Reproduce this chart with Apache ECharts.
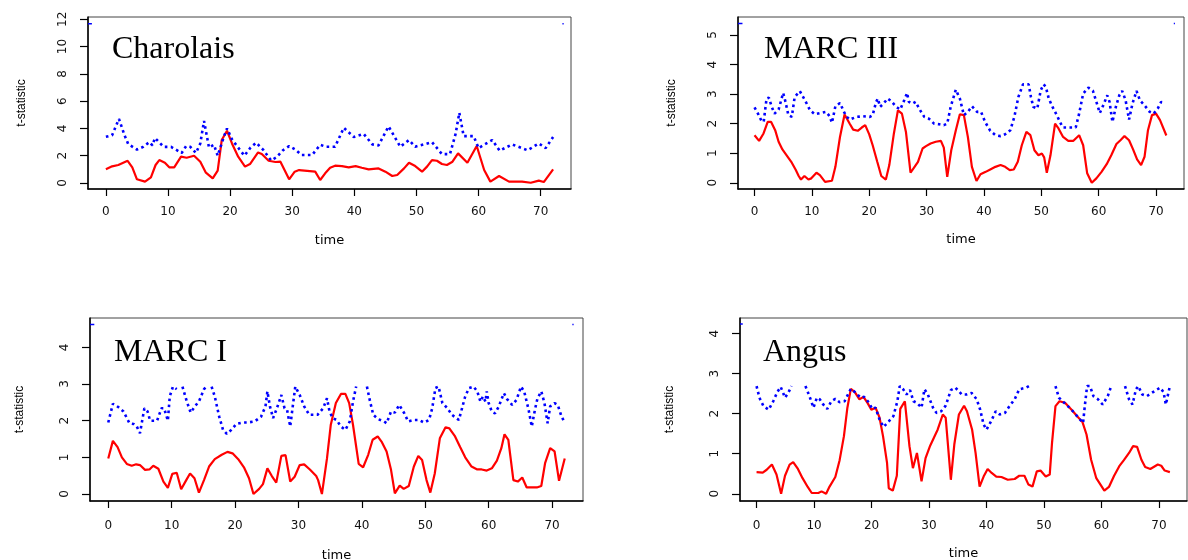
<!DOCTYPE html>
<html>
<head>
<meta charset="utf-8">
<script src="https://cdn.jsdelivr.net/npm/echarts@6/dist/echarts.min.js"></script>
<style>
  html, body { margin: 0; padding: 0; background: #fff; }
  #chart { width: 1188px; height: 560px; }
</style>
</head>
<body>
<div id="chart"></div>
<script>
// tick labels
const xTicks = [0, 10, 20, 30, 40, 50, 60, 70]
const yTicksCharolais = [0, 2, 4, 6, 8, 10, 12]
const yTicksMarc3 = [0, 1, 2, 3, 4, 5]
const yTicksMarc1 = [0, 1, 2, 3, 4]
const yTicksAngus = [0, 1, 2, 3, 4]

const breeds = ['Charolais', 'MARC III', 'MARC I', 'Angus']

// [time, t-statistic] ('-' = hidden part of the line)
const charolaisRed = [[0,1.0],[1,1.22],[2,1.32],[3.5,1.63],[4.25,1.15],[5,0.27],[6.3,0.1],[7.25,0.41],[8,1.32],[8.6,1.68],[9.5,1.49],[10.2,1.15],[11,1.15],[12.1,1.93],[13,1.85],[14.2,2.0],[15.2,1.56],[16.1,0.76],[17.2,0.34],[18,0.9],[18.65,3.15],[19.5,3.83],[20.3,2.9],[21.3,1.93],[22.4,1.2],[23.2,1.39],[24.5,2.24],[25.1,2.12],[26.2,1.63],[27.3,1.54],[28.1,1.56],[29.5,0.27],[30.4,0.83],[31.1,0.95],[33.7,0.83],[34.5,0.22],[35.3,0.71],[36.1,1.12],[36.9,1.27],[38,1.24],[39.1,1.15],[40.2,1.24],[41.2,1.12],[42.3,1.0],[43.9,1.07],[45,0.83],[46.1,0.51],[46.9,0.59],[48,1.07],[48.8,1.49],[49.8,1.24],[50.9,0.83],[51.7,1.2],[52.5,1.68],[53.3,1.63],[54.1,1.39],[54.9,1.32],[55.8,1.56],[56.7,2.17],[58.2,1.49],[59.7,2.71],[60.9,0.95],[61.9,0.1],[63.3,0.51],[64.9,0.1],[67,0.1],[68.4,0.02],[69.7,0.17],[70.5,0.07],[72,1.0]]
const charolaisBlue = [[0,3.39],[1,3.5],[2.1,4.7],[3,3.5],[3.6,2.85],[5,2.45],[6,2.65],[7,3.0],[7.5,2.75],[7.9,3.3],[9.3,2.65],[10.5,2.65],[12.2,2.2],[12.9,2.7],[13.6,2.65],[14.5,2.2],[15.2,2.9],[15.8,4.55],[16.6,2.6],[17.4,2.8],[18,2.0],[19,3.4],[19.5,4.0],[20.3,3.2],[21.2,2.65],[22.3,2.0],[23.3,2.6],[24.2,2.95],[25.3,2.45],[26.6,1.65],[27.5,1.9],[28.5,2.4],[29.5,2.7],[30.5,2.45],[31.5,2.05],[33.2,2.05],[34.5,2.8],[35.4,2.66],[36.9,2.66],[38.3,4.05],[39.9,3.37],[41.5,3.6],[42.9,2.83],[43.9,2.76],[45.5,4.15],[47.4,2.66],[48.8,3.15],[49.8,2.66],[51.2,2.83],[52.5,3.0],[54.1,2.12],[55.4,2.12],[56.3,3.6],[56.9,5.15],[57.6,3.44],[59.2,3.44],[60,2.56],[62.2,3.15],[63.4,2.37],[65.4,2.83],[67.9,2.4],[69.7,2.9],[70.8,2.56],[72,3.37]]
const charolaisEdge = [[-2.88,11.68],[-2.25,11.68],[73,'-'],[73.5,11.68],[73.7,11.68]]

const marc3Red = [[0,1.61],[0.8,1.42],[1.57,1.67],[2.3,2.06],[2.9,2.06],[3.6,1.78],[4.2,1.39],[4.86,1.13],[5.6,0.93],[6.5,0.68],[7.2,0.43],[7.7,0.23],[8.1,0.11],[8.7,0.23],[9.4,0.11],[9.9,0.15],[10.8,0.34],[11.4,0.26],[12.3,0.03],[13.5,0.07],[14.1,0.54],[14.9,1.55],[15.7,2.31],[16.6,2.0],[17.2,1.8],[18,1.76],[18.7,1.87],[19.3,1.95],[20,1.64],[20.6,1.27],[21.4,0.71],[22.1,0.23],[22.9,0.11],[23.5,0.6],[24.3,1.67],[25,2.45],[25.7,2.34],[26.4,1.72],[27.2,0.34],[27.9,0.54],[28.5,0.71],[29.3,1.16],[29.9,1.24],[30.7,1.33],[31.6,1.39],[32.5,1.42],[33,1.19],[33.6,0.2],[34.3,1.1],[35.1,1.78],[35.8,2.32],[36.5,2.29],[37.2,1.55],[37.9,0.54],[38.7,0.06],[39.4,0.29],[40.3,0.37],[41.1,0.45],[42,0.54],[42.9,0.6],[43.7,0.54],[44.5,0.43],[45.2,0.45],[45.9,0.71],[46.6,1.27],[47.4,1.72],[48.1,1.61],[48.8,1.1],[49.5,0.93],[50.1,0.99],[50.5,0.86],[50.96,0.34],[51.6,0.93],[52.4,2.0],[53,1.84],[53.8,1.55],[54.7,1.42],[55.6,1.42],[56.6,1.61],[57.3,1.27],[58,0.32],[58.8,0.0],[59.6,0.15],[60.5,0.37],[61.4,0.63],[62.2,0.93],[63.1,1.31],[63.8,1.44],[64.5,1.58],[65.3,1.44],[66,1.13],[66.7,0.79],[67.4,0.6],[68,0.88],[68.6,1.78],[69.3,2.29],[70,2.34],[70.7,2.12],[71.8,1.6]]
const marc3Blue = [[0,2.55],[0.6,2.34],[1.2,2.1],[1.6,2.06],[2.1,2.85],[2.5,2.88],[3,2.57],[3.5,2.34],[4.2,2.48],[5,3.04],[5.4,2.74],[5.9,2.29],[6.5,2.23],[7,2.9],[7.9,3.1],[8.8,2.79],[9.7,2.45],[10.5,2.32],[11.4,2.36],[12.5,2.4],[13.1,2.25],[13.5,2.03],[14.1,2.59],[14.9,2.7],[15.6,2.4],[16,2.25],[16.6,2.14],[17.8,2.23],[18.9,2.25],[20.1,2.23],[20.6,2.29],[21.2,2.74],[21.5,2.85],[21.9,2.57],[22.5,2.68],[23.2,2.85],[23.8,2.77],[24.7,2.57],[25.4,2.48],[26.1,2.79],[26.6,3.04],[26.9,2.74],[27.6,2.68],[28.1,2.74],[28.7,2.51],[29.6,2.23],[30.4,2.17],[31.3,2.0],[32.2,1.98],[33,1.95],[33.6,2.0],[34.2,2.57],[35.1,3.15],[35.8,2.85],[36.5,2.29],[37.2,2.4],[37.9,2.59],[38.8,2.4],[39.5,2.4],[40.2,2.06],[41.1,1.76],[42,1.61],[42.9,1.58],[43.7,1.64],[44.6,1.78],[45.3,2.23],[46,2.9],[46.8,3.33],[47.8,3.33],[48.2,2.9],[48.6,2.57],[49.3,2.51],[49.9,3.13],[50.4,3.33],[50.8,3.24],[51.3,2.85],[52,2.55],[52.7,2.29],[53.4,2.0],[53.8,1.87],[55,1.87],[56,1.87],[56.6,2.34],[57.3,3.02],[58.2,3.22],[59,3.11],[59.7,2.68],[60.2,2.36],[60.8,2.62],[61.5,2.96],[61.9,2.74],[62.4,2.06],[63,2.57],[63.6,2.96],[64.1,3.11],[64.7,2.79],[65.3,2.14],[65.9,2.68],[66.6,3.11],[67.2,2.79],[68,2.62],[68.9,2.4],[69.6,2.34],[70.3,2.51],[70.9,2.74],[71.5,2.68]]
const marc3Edge = [[-2.88,5.39],[-2.1,5.39],[72,'-'],[73.1,5.39],[73.3,5.39]]

const marc1Red = [[0,0.97],[0.73,1.45],[1.47,1.28],[2.15,1.0],[2.93,0.82],[3.7,0.77],[4.4,0.81],[5,0.79],[5.8,0.66],[6.5,0.67],[7.1,0.77],[7.9,0.69],[8.7,0.34],[9.4,0.17],[10.1,0.55],[10.8,0.58],[11.5,0.13],[12.3,0.38],[12.9,0.56],[13.6,0.43],[14.3,0.04],[15.1,0.38],[15.9,0.75],[16.8,0.95],[17.9,1.07],[18.8,1.15],[19.6,1.11],[20.5,0.95],[21.4,0.73],[22.2,0.43],[22.9,0.0],[23.8,0.14],[24.4,0.27],[25.1,0.7],[25.8,0.49],[26.5,0.31],[27.3,1.04],[27.96,1.06],[28.7,0.34],[29.4,0.47],[30.2,0.79],[30.9,0.81],[31.8,0.67],[32.8,0.49],[33.1,0.38],[33.7,0.0],[34.5,0.97],[35.1,1.89],[35.9,2.48],[36.7,2.73],[37.4,2.73],[38,2.48],[38.6,1.89],[39.5,0.82],[40.2,0.73],[41,1.07],[41.7,1.48],[42.5,1.57],[43.1,1.43],[43.9,1.16],[44.6,0.66],[45.2,0.02],[45.97,0.23],[46.6,0.14],[47.4,0.22],[48.2,0.75],[48.9,1.04],[49.5,0.93],[50.2,0.38],[50.8,0.04],[51.5,0.56],[52.3,1.52],[53.2,1.82],[53.8,1.79],[54.7,1.57],[55.5,1.28],[56.3,1.0],[57.3,0.75],[58.2,0.67],[58.9,0.67],[59.7,0.64],[60.5,0.7],[61.3,0.91],[62,1.25],[62.5,1.63],[63.1,1.48],[63.9,0.38],[64.6,0.34],[65.3,0.45],[66,0.18],[66.8,0.18],[67.6,0.18],[68.3,0.22],[68.9,0.84],[69.7,1.25],[70.4,1.16],[71.1,0.36],[72,0.97]]
const marc1Blue = [[0,1.95],[0.73,2.46],[1.6,2.37],[2.4,2.25],[3.35,1.93],[4,1.91],[4.5,1.84],[5,1.66],[5.7,2.34],[6.2,2.25],[6.6,2.0],[7.7,2.0],[8.4,2.34],[8.8,2.34],[9.4,2.0],[9.7,2.66],[10.2,2.93],[10.8,2.86],[11.2,'-'],[11.7,2.93],[12.4,2.52],[13,2.22],[13.7,2.4],[14.3,2.52],[15.1,2.86],[15.5,2.93],[15.9,'-'],[16.3,2.93],[16.8,2.66],[17.5,2.11],[18.1,1.75],[18.7,1.64],[19.4,1.75],[20.2,1.91],[21.2,1.95],[22,1.95],[23.1,1.98],[24.1,2.11],[24.8,2.39],[25.1,2.8],[25.5,2.39],[26,2.07],[26.6,2.34],[27.3,2.7],[27.8,2.34],[28.2,2.3],[28.7,1.84],[29.1,2.39],[29.5,2.93],[30.2,2.7],[30.9,2.39],[31.7,2.16],[33,2.16],[33.9,2.34],[34.5,2.61],[34.9,2.25],[35.4,2.07],[36,2.02],[36.7,1.84],[37.4,1.75],[38.1,1.98],[38.6,2.52],[39.1,2.93],[40,'-'],[40.8,2.93],[41.3,2.52],[41.8,2.16],[42.6,2.04],[43.5,1.98],[43.9,1.93],[44.6,2.25],[45.2,2.22],[45.9,2.43],[46.7,2.2],[47.3,1.98],[48.2,2.02],[49,2.02],[49.8,1.95],[50.6,2.02],[51.1,2.34],[51.6,2.89],[52.1,2.93],[52.7,2.48],[53.5,2.34],[54.2,2.16],[55.3,2.02],[55.8,2.34],[56.3,2.66],[56.9,2.89],[57.6,2.93],[58.2,2.8],[58.7,2.52],[59.1,2.66],[59.5,2.52],[59.7,2.8],[60,2.48],[60.5,2.25],[61,2.2],[61.6,2.39],[62.4,2.75],[62.9,2.59],[63.7,2.43],[64.4,2.57],[65.1,2.93],[65.6,2.8],[66.3,2.3],[66.8,1.84],[67.3,2.3],[67.7,2.61],[68.3,2.8],[68.8,2.48],[69.3,1.93],[69.7,2.39],[70.4,2.48],[70.9,2.43],[71.5,2.11],[72,1.95]]
const marc1Edge = [[-2.88,4.62],[-2.2,4.62],[72,'-'],[73.2,4.62],[73.4,4.62]]

const angusRed = [[0,0.54],[1.08,0.53],[1.76,0.6],[2.67,0.73],[3.47,0.48],[4.27,0.0],[4.95,0.45],[5.75,0.73],[6.37,0.79],[7.2,0.62],[8,0.39],[8.9,0.17],[9.6,0.02],[10.75,0.02],[11.3,0.06],[12.1,0.0],[12.7,0.18],[13.7,0.42],[14.45,0.84],[15.2,1.44],[15.8,2.15],[16.4,2.62],[17.1,2.54],[17.9,2.36],[18.6,2.42],[19.3,2.27],[19.97,2.1],[20.7,2.15],[21.4,1.9],[22,1.44],[22.7,0.77],[23,0.14],[23.7,0.08],[24.4,0.45],[25,2.12],[25.8,2.31],[26.6,1.19],[27.2,0.64],[27.9,1.02],[28.7,0.31],[29.4,0.89],[30.2,1.2],[31.5,1.6],[32.4,1.98],[32.9,1.9],[33.8,0.35],[34.4,1.23],[35.2,1.98],[36.1,2.2],[36.6,2.06],[37.5,1.6],[38.1,1.02],[38.8,0.18],[39.5,0.43],[40.2,0.62],[40.9,0.52],[41.7,0.43],[42.6,0.42],[43.7,0.35],[44.9,0.37],[45.7,0.45],[46.6,0.45],[47.3,0.23],[48,0.18],[48.75,0.56],[49.4,0.58],[50.3,0.43],[51,0.48],[51.4,1.27],[52,2.19],[52.7,2.31],[53.7,2.27],[54.8,2.1],[55.7,1.95],[56.7,1.79],[57.4,1.48],[58.2,0.85],[59.1,0.39],[60.5,0.08],[61.3,0.17],[62.2,0.45],[63.1,0.69],[63.9,0.84],[64.8,1.02],[65.5,1.19],[66.2,1.17],[66.95,0.85],[67.6,0.67],[68.5,0.62],[69.8,0.73],[70.4,0.7],[71,0.58],[71.9,0.54]]
const angusBlue = [[0,2.69],[0.5,2.4],[1.2,2.19],[2.1,2.1],[2.9,2.31],[3.6,2.54],[4.2,2.67],[4.95,2.4],[5.5,2.52],[6.1,2.69],[7,'-'],[8.5,2.69],[9.2,2.44],[9.9,2.15],[10.5,2.4],[11,2.36],[11.6,2.23],[12.3,2.12],[13,2.31],[13.7,2.37],[14.4,2.29],[15.3,2.31],[15.9,2.48],[16.4,2.62],[17.1,2.54],[18.1,2.4],[18.7,2.42],[19.6,2.27],[20.1,2.12],[20.7,2.15],[21.4,1.85],[22.1,1.67],[23,1.81],[23.8,1.94],[24.5,2.31],[24.9,2.69],[25.5,2.61],[26.1,2.48],[26.7,2.59],[27.3,2.31],[27.9,2.27],[28.7,2.15],[29.2,2.61],[29.8,2.48],[30.7,2.15],[31.3,2.02],[32.1,2.06],[32.9,2.2],[33.8,2.59],[34.6,2.65],[35.7,2.48],[36.5,2.48],[37.4,2.52],[38.3,2.36],[38.9,2.1],[39.5,1.73],[40,1.6],[40.8,1.81],[41.6,2.06],[42.3,1.98],[43.2,2.02],[44,2.19],[44.9,2.36],[45.7,2.61],[46.9,2.65],[47.4,2.69],[50,'-'],[52,2.69],[52.6,2.4],[53.4,2.29],[54.8,2.1],[56,1.9],[56.8,1.77],[57.1,2.19],[57.5,2.69],[58,2.69],[58.6,2.44],[59.4,2.36],[60.2,2.23],[61.1,2.44],[61.7,2.69],[63,'-'],[64.1,2.69],[64.8,2.36],[65.4,2.23],[66,2.61],[66.4,2.69],[67.1,2.48],[67.9,2.44],[69.3,2.57],[70.2,2.65],[70.8,2.54],[71.2,2.23],[71.9,2.69]]
const angusEdge = [[-2.88,4.24],[-2.4,4.24]]

// layout of the four panels
const panels = [
  { name: breeds[0], red: charolaisRed, blue: charolaisBlue, edge: charolaisEdge, yTicks: yTicksCharolais,
    yMin: -0.44, yMax: 12.17, left: 88, top: 17, width: 483, height: 172,
    titleLeft: 112, titleTop: 34, labelMargin: 17, nameGap: 60, timeGap: 45 },
  { name: breeds[1], red: marc3Red, blue: marc3Blue, edge: marc3Edge, yTicks: yTicksMarc3,
    yMin: -0.21, yMax: 5.61, left: 738, top: 17, width: 446, height: 172,
    titleLeft: 764, titleTop: 34, labelMargin: 17, nameGap: 60, timeGap: 44 },
  { name: breeds[2], red: marc1Red, blue: marc1Blue, edge: marc1Edge, yTicks: yTicksMarc1,
    yMin: -0.19, yMax: 4.8, left: 90, top: 318, width: 493, height: 183,
    titleLeft: 114, titleTop: 337, labelMargin: 19, nameGap: 64, timeGap: 48 },
  { name: breeds[3], red: angusRed, blue: angusBlue, edge: angusEdge, yTicks: yTicksAngus,
    yMin: -0.18, yMax: 4.39, left: 740, top: 318, width: 447, height: 183,
    titleLeft: 763, titleTop: 337, labelMargin: 19, nameGap: 64, timeGap: 46 }
]

const chart = echarts.init(document.getElementById('chart'), null, { renderer: 'canvas' })
const sans = 'DejaVu Sans'
const option = { animation: false, backgroundColor: '#fff', title: [], grid: [], xAxis: [], yAxis: [], series: [] }

panels.forEach((p, i) => {
  option.title.push({
    text: p.name,
    left: p.titleLeft,
    top: p.titleTop,
    padding: 0,
    textStyle: { fontFamily: 'Liberation Serif', fontSize: 32, fontWeight: 'normal', color: '#000' }
  })
  option.grid.push({
    left: p.left, top: p.top, width: p.width, height: p.height,
    show: true, borderColor: '#444', borderWidth: 1,
    containLabel: false, outerBoundsMode: 'none'
  })
  option.xAxis.push({
    gridIndex: i,
    type: 'value',
    min: -2.88,
    max: 74.88,
    name: 'time',
    nameLocation: 'middle',
    nameGap: p.timeGap,
    nameMoveOverlap: false,
    nameTextStyle: { fontFamily: sans, fontSize: 13, color: '#000' },
    axisLine: { show: true, onZero: false, lineStyle: { color: '#000', width: 1.5 } },
    axisTick: { show: true, length: 7, customValues: xTicks, lineStyle: { color: '#000', width: 1.2 } },
    axisLabel: { customValues: xTicks, margin: p.labelMargin, fontFamily: sans, fontSize: 12, color: '#111' },
    splitLine: { show: false }
  })
  option.yAxis.push({
    gridIndex: i,
    type: 'value',
    min: p.yMin,
    max: p.yMax,
    name: 't-statistic',
    nameLocation: 'middle',
    nameRotate: 90,
    nameGap: p.nameGap,
    nameMoveOverlap: false,
    nameTextStyle: { fontFamily: 'Liberation Sans', fontSize: 12, color: '#000' },
    axisLine: { show: true, onZero: false, lineStyle: { color: '#000', width: 1.5 } },
    axisTick: { show: true, length: 8, customValues: p.yTicks, lineStyle: { color: '#000', width: 1.2 } },
    axisLabel: { customValues: p.yTicks, rotate: 90, margin: 19, fontFamily: sans, fontSize: 12, color: '#111' },
    splitLine: { show: false }
  })
  option.series.push({
    type: 'line', xAxisIndex: i, yAxisIndex: i, data: p.red,
    symbol: 'none', z: 2,
    lineStyle: { color: '#ff0000', width: 2.2 }
  })
  option.series.push({
    type: 'line', xAxisIndex: i, yAxisIndex: i, data: p.blue,
    symbol: 'none', z: 3, connectNulls: false,
    lineStyle: { color: '#0000ff', width: 2.6, type: [2.6, 3.4], cap: 'butt' }
  })
  option.series.push({
    type: 'line', xAxisIndex: i, yAxisIndex: i, data: p.edge,
    symbol: 'none', z: 3, connectNulls: false,
    lineStyle: { color: '#0000ff', width: 1.5 }
  })
})

chart.setOption(option)
window.addEventListener('resize', function () {
  chart.resize()
})
</script>
</body>
</html>
